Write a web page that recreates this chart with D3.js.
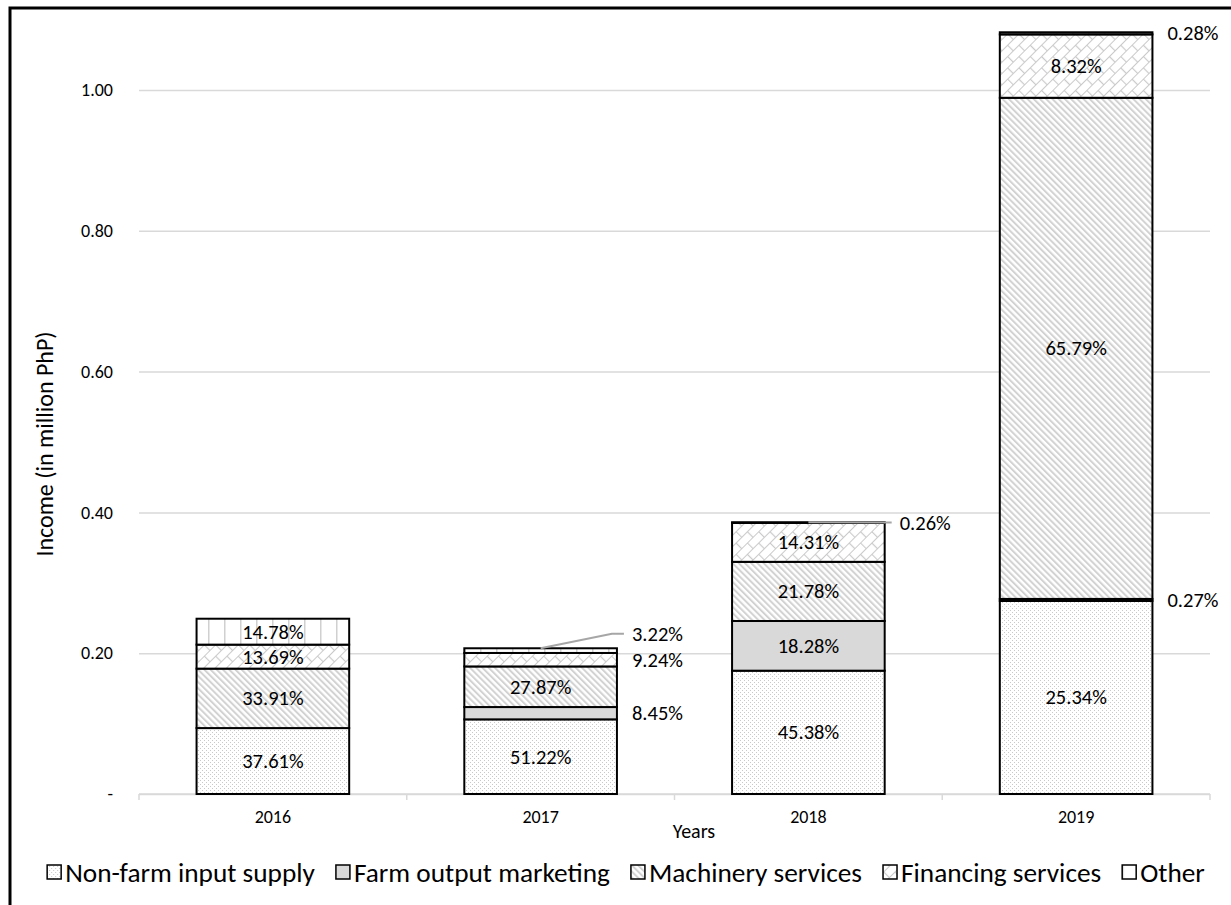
<!DOCTYPE html>
<html>
<head>
<meta charset="utf-8">
<script src="https://cdn.jsdelivr.net/npm/d3@7"></script>
<style>
  body { margin: 0; background: #fff; }
  text { font-family: Carlito, Calibri, Lato, sans-serif; fill: #000; }
  .axis text { font-size: 18px; }
</style>
</head>
<body>
<div id="chart-area"></div>
<script>
// data
const years = ["2016", "2017", "2018", "2019"]
const seriesNames = ["Non-farm input supply", "Farm output marketing", "Machinery services", "Financing services", "Other"]
const totals = [0.249, 0.207, 0.386, 1.082]          // bar height, million PhP
const nonFarm = [37.61, 51.22, 45.38, 25.34]          // shares in %
const farmOutput = [0, 8.45, 18.28, 0.27]
const machinery = [33.91, 27.87, 21.78, 65.79]
const financing = [13.69, 9.24, 14.31, 8.32]
const other = [14.78, 3.22, 0.26, 0.28]
const yTicks = [0, 0.2, 0.4, 0.6, 0.8, 1.0]
// labels that get a leader line
const leaderLabels = ["2017|Other", "2018|Other"]

const W = 1231, H = 905
const PLOT = { LEFT: 139, RIGHT: 1210, TOP: 90, BOTTOM: 794 }

const shares = [nonFarm, farmOutput, machinery, financing, other]
const rows = years.map((yr, i) => {
  const r = { year: yr }
  seriesNames.forEach((s, k) => { r[s] = totals[i] * shares[k][i] / 100 })
  return r
})

const svg = d3.select("#chart-area").append("svg")
  .attr("width", W)
  .attr("height", H)

// patterns
const defs = svg.append("defs")

const pDots = defs.append("pattern").attr("id", "p0")
  .attr("patternUnits", "userSpaceOnUse").attr("width", 4).attr("height", 4)
pDots.append("rect").attr("width", 4).attr("height", 4).attr("fill", "#fff")
pDots.append("rect").attr("x", 0).attr("y", 0).attr("width", 1).attr("height", 1).attr("fill", "#c9c9c9")
pDots.append("rect").attr("x", 2).attr("y", 2).attr("width", 1).attr("height", 1).attr("fill", "#c9c9c9")

const pDiag = defs.append("pattern").attr("id", "p2")
  .attr("patternUnits", "userSpaceOnUse").attr("width", 4.4).attr("height", 8)
  .attr("patternTransform", "rotate(-45)")
pDiag.append("rect").attr("width", 4.4).attr("height", 8).attr("fill", "#fff")
pDiag.append("rect").attr("width", 2).attr("height", 8).attr("fill", "#d2d2d2")

const pBrick = defs.append("pattern").attr("id", "p3")
  .attr("patternUnits", "userSpaceOnUse").attr("width", 16).attr("height", 16)
  .attr("patternTransform", "rotate(-45)")
pBrick.append("rect").attr("width", 16).attr("height", 16).attr("fill", "#fff")
pBrick.append("path")
  .attr("d", "M0,0.5H16M0,8.5H16M0.5,0V8.5M8.5,8.5V16")
  .attr("stroke", "#cacaca").attr("stroke-width", 1.2).attr("fill", "none")

const pVert = defs.append("pattern").attr("id", "p4")
  .attr("patternUnits", "userSpaceOnUse").attr("width", 16).attr("height", 16)
pVert.append("rect").attr("width", 16).attr("height", 16).attr("fill", "#fff")
pVert.append("rect").attr("x", 0).attr("width", 1.5).attr("height", 16).attr("fill", "#d0d0d0")

const fills = ["url(#p0)", "#d9d9d9", "url(#p2)", "url(#p3)", "url(#p4)"]

// scales
const x = d3.scaleBand()
  .domain(years)
  .range([PLOT.LEFT, PLOT.RIGHT])
  .paddingInner(0.43)
  .paddingOuter(0.215)

const y = d3.scaleLinear()
  .domain([0, 1])
  .range([PLOT.BOTTOM, PLOT.TOP])

// gridlines + y labels
const yAxis = d3.axisLeft(y)
  .tickValues(yTicks)
  .tickSize(-(PLOT.RIGHT - PLOT.LEFT))
  .tickPadding(26)
  .tickFormat(d => d === 0 ? "-" : d3.format(".2f")(d))

svg.append("g")
  .attr("class", "y axis")
  .attr("transform", `translate(${PLOT.LEFT}, 0)`)
  .call(yAxis)
  .attr("font-size", null).attr("font-family", null)
  .call(g => g.select(".domain").remove())
  .call(g => g.selectAll("line").attr("stroke", "#d9d9d9").attr("stroke-width", 1.5))

// x axis
const xAxis = d3.axisBottom(x).tickSize(0).tickPadding(16)
svg.append("g")
  .attr("class", "x axis")
  .attr("transform", `translate(0, ${PLOT.BOTTOM})`)
  .call(xAxis)
  .attr("font-size", null).attr("font-family", null)
  .call(g => g.select(".domain").attr("stroke", "#d9d9d9").attr("stroke-width", 1.5)
    .attr("d", `M${PLOT.LEFT},0H${PLOT.RIGHT}`))

// category boundary ticks
const bounds = d3.range(years.length + 1).map(i => PLOT.LEFT + i * x.step())
svg.append("g").selectAll("line")
  .data(bounds)
  .join("line")
  .attr("x1", d => d).attr("x2", d => d)
  .attr("y1", PLOT.BOTTOM).attr("y2", PLOT.BOTTOM + 6)
  .attr("stroke", "#d9d9d9").attr("stroke-width", 1.5)

// stacked bars
const stack = d3.stack().keys(seriesNames)
const series = stack(rows)

const barG = svg.append("g")
series.forEach((s, k) => {
  barG.selectAll(null)
    .data(s.filter(d => d[1] - d[0] > 0))
    .join("rect")
    .attr("x", d => x(d.data.year))
    .attr("y", d => y(d[1]))
    .attr("width", x.bandwidth())
    .attr("height", d => y(d[0]) - y(d[1]))
    .attr("fill", fills[k])
    .attr("stroke", "#000")
    .attr("stroke-width", 2)
})

// data labels: inside if the segment is tall enough, else to the right
const labelG = svg.append("g")
years.forEach((yr, i) => {
  let lastOutY = Infinity
  series.forEach((s, k) => {
    const d = s[i]
    const pct = shares[k][i]
    if (pct <= 0) return
    const top = y(d[1]), bot = y(d[0])
    const h = bot - top
    const cx = x(yr) + x.bandwidth() / 2
    const txt = pct.toFixed(2) + "%"
    if (h > 20) {
      labelG.append("text")
        .attr("x", cx).attr("y", (top + bot) / 2)
        .attr("text-anchor", "middle").attr("dominant-baseline", "central")
        .style("font-size", "20.5px").text(txt)
    } else {
      let ly = (top + bot) / 2
      if (lastOutY - ly < 26) ly = lastOutY - 26
      lastOutY = ly
      const lx = x(yr) + x.bandwidth() + 15
      if (leaderLabels.includes(yr + "|" + seriesNames[k])) {
        labelG.append("polyline")
          .attr("points", [[cx, top], [lx - 20, ly], [lx - 8, ly]].map(p => p.join(",")).join(" "))
          .attr("fill", "none").attr("stroke", "#a6a6a6").attr("stroke-width", 2)
      }
      labelG.append("text")
        .attr("x", lx).attr("y", ly)
        .attr("dominant-baseline", "central")
        .style("font-size", "20.5px").text(txt)
    }
  })
})

// axis titles
svg.append("text")
  .attr("x", 694).attr("y", PLOT.BOTTOM + 44)
  .attr("text-anchor", "middle")
  .style("font-size", "20px")
  .text("Years")

svg.append("text")
  .attr("transform", `translate(44, ${(PLOT.TOP + PLOT.BOTTOM) / 2 + 2}) rotate(-90)`)
  .attr("text-anchor", "middle")
  .attr("dominant-baseline", "central")
  .style("font-size", "24px")
  .text("Income (in million PhP)")

// legend
const legend = svg.append("g").attr("transform", `translate(0, 872)`)
const items = legend.selectAll("g")
  .data(seriesNames)
  .join("g")
items.append("rect")
  .attr("x", 0).attr("y", -7).attr("width", 14).attr("height", 14)
  .attr("fill", (d, k) => fills[k])
  .attr("stroke", "#000").attr("stroke-width", 1.5)
items.append("text")
  .attr("x", 18).attr("y", 0)
  .attr("dominant-baseline", "central")
  .style("font-size", "27.3px")
  .text(d => d)

const widths = []
items.each(function () {
  widths.push(18 + d3.select(this).select("text").node().getComputedTextLength())
})
const gap = 21
const total = d3.sum(widths) + gap * (widths.length - 1)
let cursor = 626 - total / 2
items.attr("transform", (d, k) => {
  const t = `translate(${cursor}, 0)`
  cursor += widths[k] + gap
  return t
})

// frame
svg.append("path")
  .attr("d", `M10,${H}V8H${W}`)
  .attr("fill", "none").attr("stroke", "#000").attr("stroke-width", 3)
</script>
</body>
</html>
